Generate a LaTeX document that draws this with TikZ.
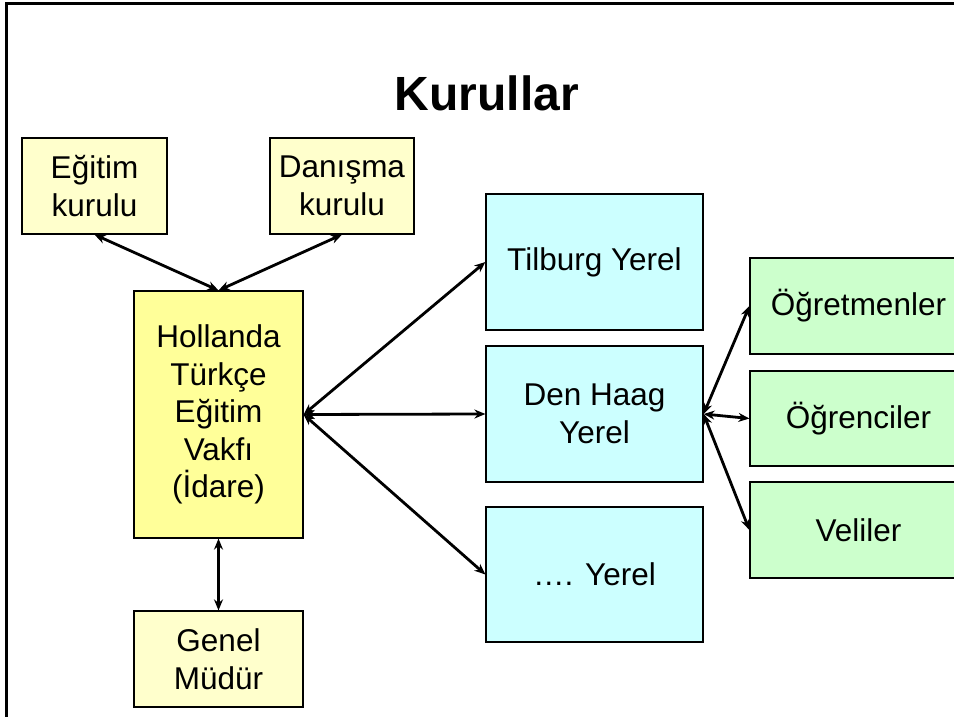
\documentclass[tikz,border=0pt]{standalone}
\usepackage{fontspec}
\setmainfont{Liberation Sans}
\usetikzlibrary{arrows.meta}
\definecolor{paleyellow}{HTML}{FFFFCC}
\definecolor{midyellow}{HTML}{FFFF99}
\definecolor{palecyan}{HTML}{CCFFFF}
\definecolor{palegreen}{HTML}{CCFFCC}
\tikzset{
  box/.style={draw=black, line width=1.2pt, align=center, inner sep=0pt,
    font=\fontsize{31.5}{37.5}\selectfont},
  ybox/.style={box, fill=paleyellow},
  cbox/.style={box, fill=palecyan, minimum width=217pt},
  gbox/.style={box, fill=palegreen, minimum width=217pt},
  link/.style={{Stealth[length=11pt,width=9pt]}-{Stealth[length=11pt,width=9pt]}, line width=2.8pt}
}
\begin{document}
\begin{tikzpicture}[x=1pt,y=-1pt]
\useasboundingbox (0,0) rectangle (954,717);
\clip (0,0) rectangle (954,717);
\fill[white] (0,0) rectangle (954,717);
\draw[line width=2.5pt] (6.5,717) -- (6.5,3.3) -- (954,3.3);
\node[font=\fontsize{48}{56}\selectfont\bfseries] (title) at (487,93) {Kurullar};

\node[ybox, minimum width=145pt, minimum height=96pt] (egitim) at (94.5,186) {Eğitim\\kurulu};
\node[ybox, minimum width=144pt, minimum height=96pt] (danisma) at (342,186) {Danışma\\kurulu};
\node[box, fill=midyellow, minimum width=169pt, minimum height=247pt] (hollanda) at (218.5,414.5) {Hollanda\\Türkçe\\Eğitim\\Vakfı\\(İdare)};
\node[ybox, minimum width=169pt, minimum height=96pt] (genel) at (218.5,659) {Genel\\Müdür};

\node[cbox, minimum height=136pt] (tilburg) at (594.5,262) {Tilburg Yerel};
\node[cbox, minimum height=136pt] (denhaag) at (594.5,414) {Den Haag\\Yerel};
\node[cbox, minimum height=135pt] (yerel) at (594.5,574.5) {…. Yerel};

\node[gbox, minimum height=96pt] (ogretmen) at (858.5,306) {Öğretmenler};
\node[gbox, minimum height=95pt] (ogrenci) at (858.5,418.5) {Öğrenciler};
\node[gbox, minimum height=96pt] (veli) at (858.5,530) {Veliler};

\draw[link] (egitim.south) -- (hollanda.north);
\draw[link] (danisma.south) -- (hollanda.north);
\draw[link] (hollanda.east) -- (tilburg.west);
\draw[link] (hollanda.east) -- (denhaag.west);
\draw[link] (hollanda.east) -- (yerel.west);
\draw[link] (hollanda.south) -- (genel.north);
\draw[link] (denhaag.east) -- (ogretmen.west);
\draw[link] (denhaag.east) -- (ogrenci.west);
\draw[link] (denhaag.east) -- (veli.west);
\end{tikzpicture}
\end{document}
